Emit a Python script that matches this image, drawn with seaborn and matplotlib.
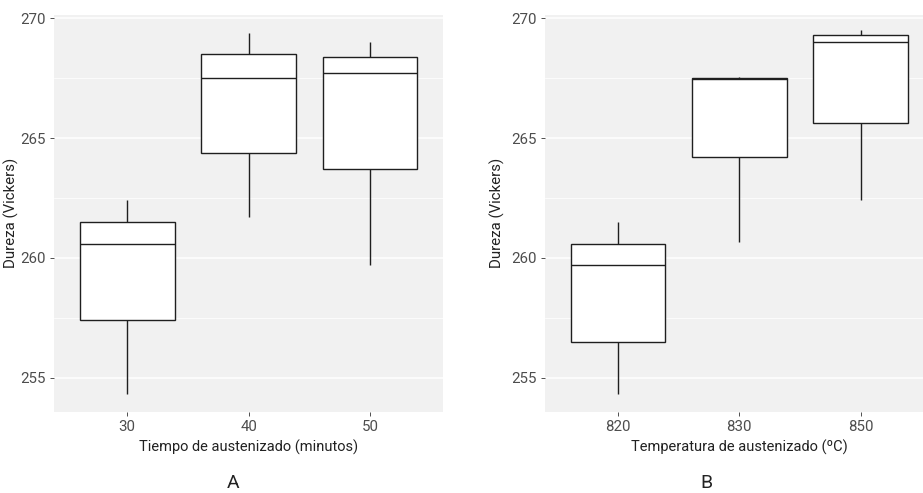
import numpy as np
import pandas as pd
import matplotlib
matplotlib.use("Agg")
import matplotlib.pyplot as plt
import seaborn as sns
from matplotlib.ticker import MultipleLocator

# ---- data (five-number summaries: min, Q1, median, Q3, max) ----
tiempo_labels = ["30", "40", "50"]
tiempo_30 = [254.3, 257.4, 260.6, 261.5, 262.4]
tiempo_40 = [261.7, 264.4, 267.5, 268.5, 269.4]
tiempo_50 = [259.7, 263.7, 267.7, 268.4, 269.0]

temp_labels = ["820", "830", "850"]
temp_820 = [254.3, 256.5, 259.7, 260.6, 261.5]
temp_830 = [260.65, 264.2, 267.45, 267.5, 267.56]
temp_850 = [262.4, 265.65, 269.0, 269.3, 269.5]

ylabel = "Dureza (Vickers)"
xlabel_a = "Tiempo de austenizado (minutos)"
xlabel_b = "Temperatura de austenizado (ºC)"

df_a = pd.DataFrame({
    "grupo": np.repeat(tiempo_labels, 5),
    "dureza": tiempo_30 + tiempo_40 + tiempo_50,
})
df_b = pd.DataFrame({
    "grupo": np.repeat(temp_labels, 5),
    "dureza": temp_820 + temp_830 + temp_850,
})

sns.set_theme(style="white")
plt.rcParams["font.family"] = ["Roboto", "DejaVu Sans"]

W, H = 923, 493
fig = plt.figure(figsize=(W / 100, H / 100), dpi=100)

def px_axes(l, t, r, b):
    return fig.add_axes([l / W, 1 - b / H, (r - l) / W, (b - t) / H])

ax_a = px_axes(54.3, 15, 443, 411.7)
ax_b = px_axes(545, 15, 933.7, 411.7)

line_c = "#1f1f1f"
for ax, df, order, xl, ylx in [(ax_a, df_a, tiempo_labels, xlabel_a, -0.111),
                                (ax_b, df_b, temp_labels, xlabel_b, -0.122)]:
    ax.set_facecolor("#F1F1F1")
    ax.set_axisbelow(True)
    ax.yaxis.set_major_locator(MultipleLocator(5))
    ax.yaxis.set_minor_locator(MultipleLocator(2.5))
    ax.grid(which="major", axis="both", color="white", linewidth=1.1)
    ax.grid(which="minor", axis="y", color="white", linewidth=0.55)
    sns.boxplot(data=df, x="grupo", y="dureza", order=order, ax=ax,
                color="white", saturation=1, width=0.78, linewidth=1.0,
                linecolor=line_c, whis=np.inf, showcaps=False,
                showfliers=False)
    ax.set_xlim(-0.6, 2.6)
    ax.set_ylim(253.58, 270.14)
    for s in ax.spines.values():
        s.set_visible(False)
    ax.tick_params(axis="both", which="major", length=3, width=0.6,
                   color="#333333", labelcolor="#4D4D4D", labelsize=10.8, pad=3,
                   bottom=True, left=True)
    ax.tick_params(axis="y", which="minor", length=0, left=False)
    ax.set_xlabel(xl, fontsize=10.5, color="#222222", labelpad=4)
    ax.set_ylabel(ylabel, fontsize=10.8, color="#222222")
    ax.yaxis.set_label_coords(ylx, 0.5)
    ax.yaxis.label.set_verticalalignment("center")

fig.text(233 / W, 1 - 492 / H, "A", ha="center", va="bottom", fontsize=14, color="#222222")
fig.text(706 / W, 1 - 492 / H, "B", ha="center", va="bottom", fontsize=14, color="#222222")

fig.savefig("out.png", dpi=100)
